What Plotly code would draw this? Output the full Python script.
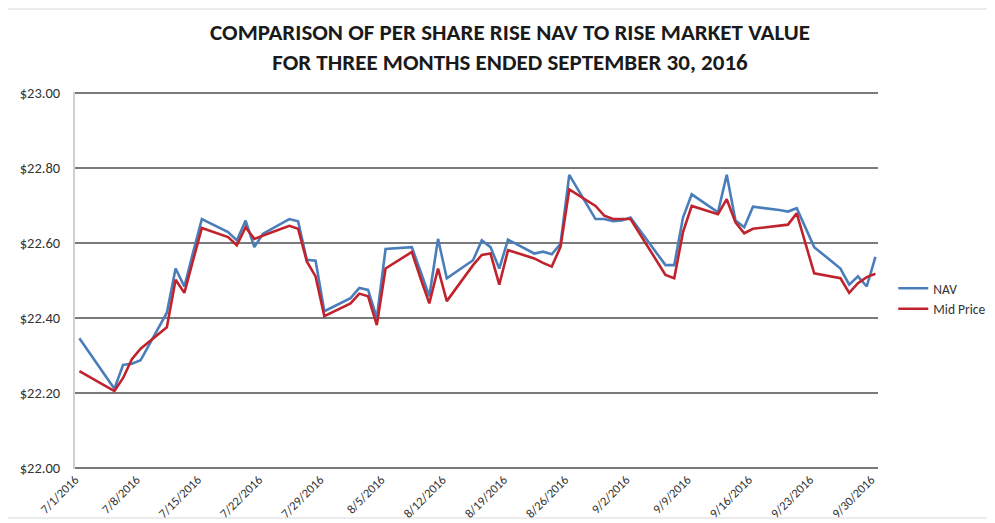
import plotly.graph_objects as go

dates = ["2016-07-01","2016-07-05","2016-07-06","2016-07-07","2016-07-08",
         "2016-07-11","2016-07-12","2016-07-13","2016-07-14","2016-07-15",
         "2016-07-18","2016-07-19","2016-07-20","2016-07-21","2016-07-22",
         "2016-07-25","2016-07-26","2016-07-27","2016-07-28","2016-07-29",
         "2016-08-01","2016-08-02","2016-08-03","2016-08-04","2016-08-05",
         "2016-08-08","2016-08-09","2016-08-10","2016-08-11","2016-08-12",
         "2016-08-15","2016-08-16","2016-08-17","2016-08-18","2016-08-19",
         "2016-08-22","2016-08-23","2016-08-24","2016-08-25","2016-08-26",
         "2016-08-29","2016-08-30","2016-08-31","2016-09-01","2016-09-02",
         "2016-09-06","2016-09-07","2016-09-08","2016-09-09",
         "2016-09-12","2016-09-13","2016-09-14","2016-09-15","2016-09-16",
         "2016-09-19","2016-09-20","2016-09-21","2016-09-22","2016-09-23",
         "2016-09-26","2016-09-27","2016-09-28","2016-09-29","2016-09-30"]

nav = [22.346, 22.211, 22.275, 22.278, 22.287,
       22.414, 22.532, 22.484, 22.575, 22.664,
       22.629, 22.607, 22.660, 22.589, 22.625,
       22.664, 22.658, 22.555, 22.553, 22.418,
       22.453, 22.480, 22.475, 22.400, 22.584,
       22.589, 22.524, 22.458, 22.611, 22.506,
       22.554, 22.607, 22.589, 22.532, 22.609,
       22.572, 22.577, 22.570, 22.598, 22.782,
       22.664, 22.664, 22.658, 22.660, 22.668,
       22.541, 22.541, 22.668, 22.730,
       22.682, 22.782, 22.660, 22.642, 22.697,
       22.688, 22.684, 22.693, 22.642, 22.589,
       22.532, 22.489, 22.511, 22.484, 22.563]

mid_price = [22.258, 22.205, 22.240, 22.290, 22.318,
             22.375, 22.502, 22.467, 22.554, 22.640,
             22.616, 22.594, 22.642, 22.611, 22.620,
             22.646, 22.638, 22.551, 22.511, 22.405,
             22.439, 22.465, 22.458, 22.381, 22.532,
             22.576, 22.506, 22.439, 22.532, 22.445,
             22.541, 22.568, 22.572, 22.489, 22.581,
             22.559, 22.547, 22.537, 22.590, 22.743,
             22.699, 22.673, 22.664, 22.664, 22.664,
             22.515, 22.506, 22.629, 22.699,
             22.677, 22.717, 22.655, 22.626, 22.638,
             22.646, 22.649, 22.679, 22.598, 22.519,
             22.506, 22.467, 22.493, 22.509, 22.518]

tick_dates = ["2016-06-30 12:00","2016-07-07 12:00","2016-07-14 12:00","2016-07-21 12:00",
              "2016-07-28 12:00","2016-08-04 12:00","2016-08-11 12:00","2016-08-18 12:00",
              "2016-08-25 12:00","2016-09-01 12:00","2016-09-08 12:00","2016-09-15 12:00",
              "2016-09-22 12:00","2016-09-29 12:00"]
tick_labels = ["7/1/2016","7/8/2016","7/15/2016","7/22/2016","7/29/2016","8/5/2016",
               "8/12/2016","8/19/2016","8/26/2016","9/2/2016","9/9/2016","9/16/2016",
               "9/23/2016","9/30/2016"]

FONT = "Carlito, 'Liberation Sans Narrow', 'Open Sans', Arial, sans-serif"

fig = go.Figure()
fig.add_trace(go.Scatter(x=dates, y=nav, mode="lines", name="NAV",
                         line=dict(color="#4a7ebb", width=2.6)))
fig.add_trace(go.Scatter(x=dates, y=mid_price, mode="lines", name="Mid Price",
                         line=dict(color="#c0232c", width=2.6)))

# the page body adds an 8px offset, so the figure is sized to fill the rest
fig.update_layout(
    width=987, height=515,
    margin=dict(l=67, r=117, t=84, b=54, autoexpand=False),
    paper_bgcolor="white", plot_bgcolor="white",
    font=dict(family=FONT, color="#333333", size=13),
    title=dict(
        text="COMPARISON OF PER SHARE RISE NAV TO RISE MARKET VALUE<br>FOR THREE MONTHS ENDED SEPTEMBER 30, 2016",
        x=0.5086, xanchor="center", y=0.938, yanchor="middle",
        font=dict(family=FONT, size=23, color="#1a1a1a", weight="bold"),
    ),
    showlegend=True,
    legend=dict(x=1.019, xanchor="left", y=0.451, yanchor="middle",
                font=dict(family=FONT, size=13.5, color="#333333"),
                bgcolor="rgba(0,0,0,0)", tracegroupgap=0, itemwidth=30),
    xaxis=dict(
        type="date", automargin=False,
        range=["2016-06-30 12:00", "2016-09-30 07:00"],
        tickmode="array", tickvals=tick_dates, ticktext=tick_labels,
        tickangle=-45, showgrid=False, zeroline=False,
        showline=False, ticks="",
        tickfont=dict(family=FONT, size=12.5, color="#333333"),
    ),
    yaxis=dict(
        automargin=False,
        range=[21.997, 23.003], dtick=0.2, tick0=22.0,
        tickformat="$.2f", showgrid=True, gridcolor="#7a7a7a", gridwidth=2,
        zeroline=False, showline=True, linecolor="#d0d0d0", linewidth=2,
        ticks="", ticklabelstandoff=10,
        tickfont=dict(family=FONT, size=14.5, color="#333333"),
    ),
    shapes=[dict(type="rect", xref="paper", yref="paper",
                 x0=-0.085, x1=1.14, y0=-0.13, y1=1.22,
                 line=dict(color="#d9d9d9", width=1), fillcolor="rgba(0,0,0,0)",
                 layer="below")],
)

fig.write_html("out.html")
